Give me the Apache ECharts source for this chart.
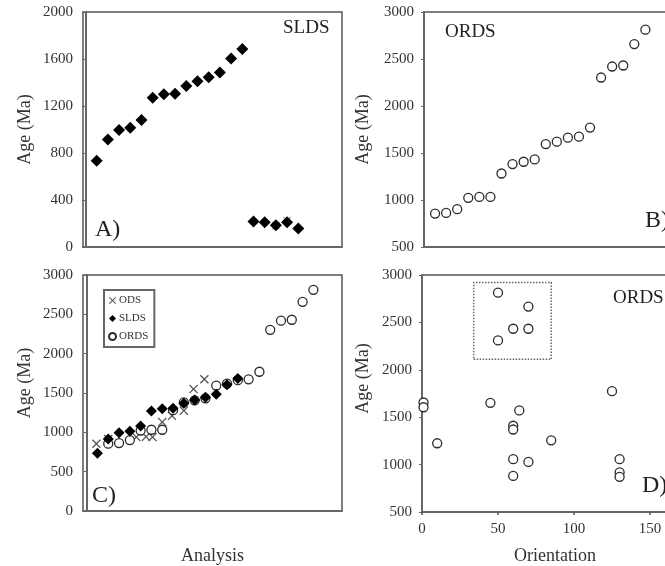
<!DOCTYPE html>
<html>
<head>
<meta charset="utf-8">
<script src="https://cdn.jsdelivr.net/npm/echarts@6.0.0/dist/echarts.min.js"></script>
<style>
  html, body { margin: 0; padding: 0; background: #fff; overflow: hidden; }
  /* wider than the window: the right-hand panels run off the edge as in the reference */
  #chart { width: 720px; height: 566px; }
</style>
</head>
<body>
<div id="chart"></div>
<script>
// SLDS ages (Ma), analysis order; last five are the young grains
const sldsIndex = [1, 2, 3, 4, 5, 6, 7, 8, 9, 10, 11, 12, 13, 14, 15, 16, 17, 18, 19];
const sldsAge = [735, 915, 995, 1015, 1080, 1270, 1300, 1305, 1370, 1410, 1445, 1485, 1605, 1685, 218, 210, 186, 210, 158];
// faint crosses sitting behind the young SLDS grains in panel A
const aCrossIndex = [17, 18];
const aCrossAge = [180, 225];

// ORDS ages, analysis order (panel B), and their positions in panel C
const ordsIndex = [1, 2, 3, 4, 5, 6, 7, 8, 9, 10, 11, 12, 13, 14, 15, 16, 17, 18, 19, 20];
const ordsIndexC = [2, 3, 4, 5, 6, 7, 8, 9, 10, 11, 12, 13, 14, 15, 16, 17, 18, 19, 20, 21];
const ordsAge = [856, 863, 902, 1023, 1033, 1033, 1282, 1382, 1407, 1432, 1595, 1620, 1663, 1674, 1770, 2303, 2420, 2431, 2659, 2812];

// ODS ages in panel C
const odsIndex = [0.9, 2, 4.6, 5.5, 6.1, 7, 7.9, 9, 9.9, 10.9];
const odsAge = [855, 915, 940, 945, 940, 1130, 1210, 1275, 1550, 1675];

// panel D: ORDS age against orientation
const dOrient = [1, 1, 10, 45, 50, 50, 60, 70, 70, 64, 60, 60, 60, 60, 70, 85, 125, 130, 130, 130];
const dAge = [1655, 1605, 1225, 1652, 2814, 2310, 2433, 2667, 2433, 1571, 1410, 1370, 1057, 881, 1028, 1256, 1774, 1057, 917, 871];
const dBox = [[34, 2110], [85, 2920]];

const zip = (xs, ys) => xs.map((x, i) => [x, ys[i]]);

const serif = '"Liberation Serif", "DejaVu Serif", serif';
const crossPath = 'path://M0,1L1,0L5,4L9,0L10,1L6,5L10,9L9,10L5,6L1,10L0,9L4,5Z';

const diamondStyle = { color: '#000', opacity: 1 };
const circleStyle = { color: '#fff', borderColor: '#2a2a2a', borderWidth: 1.3, opacity: 1 };
const crossStyle = { color: '#555', opacity: 1 };
const plain = v => String(v);

function yAxis(idx, min, max, step) {
  return {
    gridIndex: idx, type: 'value', min: min, max: max, interval: step,
    name: 'Age (Ma)', nameLocation: 'middle', nameGap: 49,
    nameTextStyle: { fontFamily: serif, fontSize: 18, color: '#333' },
    axisLine: { show: true, lineStyle: { color: '#666', width: 2 } },
    axisTick: { show: true, length: 3, lineStyle: { color: '#666' } },
    axisLabel: { fontFamily: serif, fontSize: 15, color: '#333', margin: 10, formatter: plain },
    splitLine: { show: false }
  };
}
function hiddenX(idx, min, max) {
  return {
    gridIndex: idx, type: 'value', min: min, max: max,
    axisLine: { show: true, lineStyle: { color: '#666', width: 2 } },
    axisTick: { show: false }, axisLabel: { show: false }, splitLine: { show: false }
  };
}
const gridBase = { show: true, borderColor: '#555', borderWidth: 1.5, containLabel: false };

const yB = yAxis(1, 500, 3000, 500); yB.nameGap = 52;
const yC = yAxis(2, 0, 3000, 500);
yC.nameTextStyle = Object.assign({}, yC.nameTextStyle, { padding: [0, 0, 0, 20] });
const yD = yAxis(3, 500, 3000, 500); yD.nameGap = 50;
yD.nameTextStyle = Object.assign({}, yD.nameTextStyle, { padding: [0, 0, 0, 30] });
const xC = hiddenX(2, -0.34, 23.65);
xC.name = 'Analysis'; xC.nameLocation = 'middle'; xC.nameGap = 36;
xC.nameTextStyle = { fontFamily: serif, fontSize: 18, color: '#333' };

const option = {
  animation: false,
  backgroundColor: '#fff',
  grid: [
    Object.assign({ left: 83, top: 12, width: 259, height: 235 }, gridBase),
    Object.assign({ left: 424, top: 12, width: 259, height: 235 }, gridBase),
    Object.assign({ left: 83, top: 275, width: 259, height: 238 }, gridBase),
    Object.assign({ left: 422, top: 275, width: 266, height: 238 }, gridBase)
  ],
  xAxis: [
    hiddenX(0, -0.22, 22.9),
    hiddenX(1, 0, 23.4),
    xC,
    {
      gridIndex: 3, type: 'value', min: 0, max: 175, interval: 50,
      name: 'Orientation', nameLocation: 'middle', nameGap: 35,
      nameTextStyle: { fontFamily: serif, fontSize: 18, color: '#333' },
      axisLine: { show: true, lineStyle: { color: '#666', width: 2 } },
      axisTick: { show: true, length: 3, lineStyle: { color: '#555', width: 1.5 } },
      axisLabel: { fontFamily: serif, fontSize: 15, color: '#333', margin: 10, formatter: plain },
      splitLine: { show: false }
    }
  ],
  yAxis: [yAxis(0, 0, 2000, 400), yB, yC, yD],
  legend: {
    left: 104, top: 290, orient: 'vertical',
    data: ['ODS', 'SLDS', 'ORDS'],
    itemWidth: 7, itemHeight: 7, itemGap: 7,
    padding: [5, 6, 5, 4],
    borderColor: '#666', borderWidth: 2,
    backgroundColor: '#fff',
    textStyle: { fontFamily: serif, fontSize: 11, color: '#333', padding: [0, 0, 0, -2] }
  },
  series: [
    { name: 'A cross', type: 'scatter', xAxisIndex: 0, yAxisIndex: 0, symbol: crossPath, symbolSize: 8,
      itemStyle: { color: '#999', opacity: 1 }, data: zip(aCrossIndex, aCrossAge), z: 1 },
    { name: 'A SLDS', type: 'scatter', xAxisIndex: 0, yAxisIndex: 0, symbol: 'diamond', symbolSize: 12,
      itemStyle: diamondStyle, data: zip(sldsIndex, sldsAge), z: 2 },
    { name: 'B ORDS', type: 'scatter', xAxisIndex: 1, yAxisIndex: 1, symbol: 'circle', symbolSize: 9,
      itemStyle: circleStyle, data: zip(ordsIndex, ordsAge) },
    { name: 'ODS', type: 'scatter', xAxisIndex: 2, yAxisIndex: 2, symbol: crossPath, symbolSize: 9,
      itemStyle: crossStyle, data: zip(odsIndex, odsAge), z: 1 },
    { name: 'ORDS', type: 'scatter', xAxisIndex: 2, yAxisIndex: 2, symbol: 'circle', symbolSize: 9,
      itemStyle: circleStyle, data: zip(ordsIndexC, ordsAge), z: 2 },
    { name: 'SLDS', type: 'scatter', xAxisIndex: 2, yAxisIndex: 2, symbol: 'diamond', symbolSize: 11,
      itemStyle: diamondStyle, data: zip(sldsIndex.slice(0, 14), sldsAge.slice(0, 14)), z: 3 },
    { name: 'D ORDS', type: 'scatter', xAxisIndex: 3, yAxisIndex: 3, symbol: 'circle', symbolSize: 9,
      itemStyle: circleStyle, data: zip(dOrient, dAge),
      markArea: {
        silent: true,
        itemStyle: { color: 'rgba(0,0,0,0)', borderColor: '#666', borderWidth: 1.5, borderType: 'dotted' },
        data: [[{ coord: dBox[0] }, { coord: dBox[1] }]]
      } }
  ],
  graphic: [
    { type: 'text', x: 283, y: 28, style: { text: 'SLDS', fontFamily: serif, fontSize: 19, fill: '#222', verticalAlign: 'middle' } },
    { type: 'text', x: 95, y: 230, style: { text: 'A)', fontFamily: serif, fontSize: 24, fill: '#222', verticalAlign: 'middle' } },
    { type: 'text', x: 445, y: 32, style: { text: 'ORDS', fontFamily: serif, fontSize: 19, fill: '#222', verticalAlign: 'middle' } },
    { type: 'text', x: 645, y: 221, style: { text: 'B)', fontFamily: serif, fontSize: 24, fill: '#222', verticalAlign: 'middle' } },
    { type: 'text', x: 92, y: 496, style: { text: 'C)', fontFamily: serif, fontSize: 24, fill: '#222', verticalAlign: 'middle' } },
    { type: 'text', x: 613, y: 298, style: { text: 'ORDS', fontFamily: serif, fontSize: 19, fill: '#222', verticalAlign: 'middle' } },
    { type: 'text', x: 642, y: 486, style: { text: 'D)', fontFamily: serif, fontSize: 24, fill: '#222', verticalAlign: 'middle' } }
  ]
};

const chart = echarts.init(document.getElementById('chart'), null, { renderer: 'canvas' });
chart.setOption(option);
</script>
</body>
</html>
